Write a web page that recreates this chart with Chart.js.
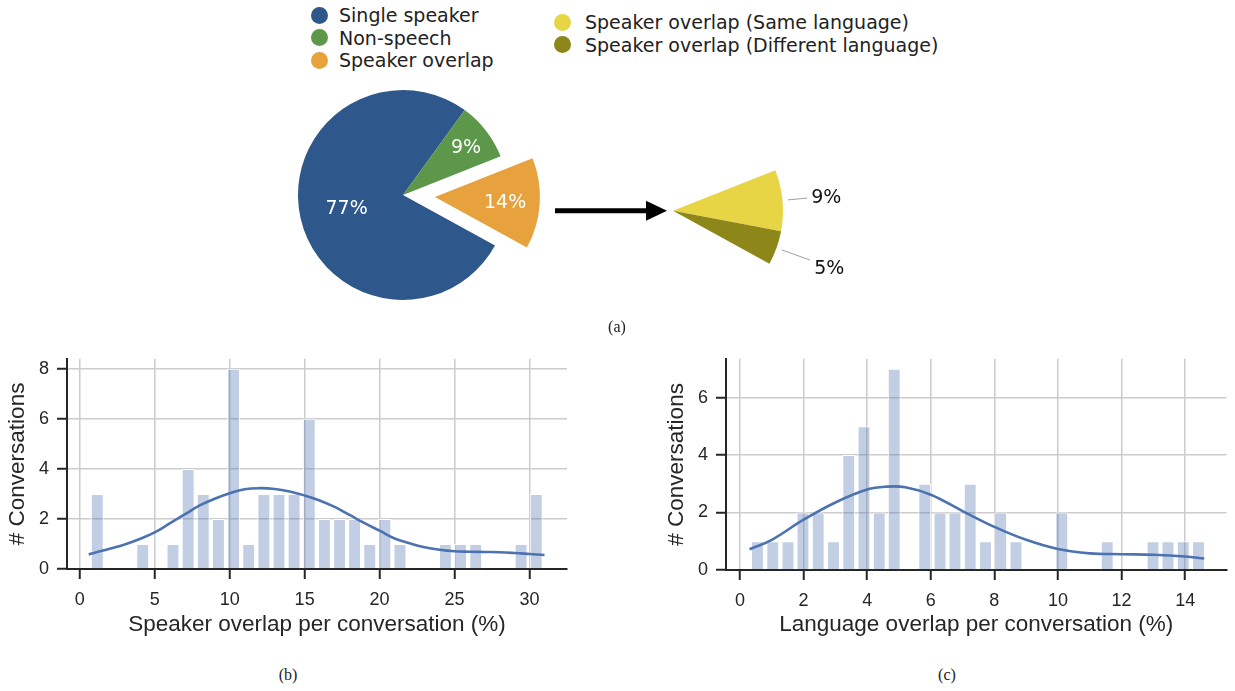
<!DOCTYPE html>
<html>
<head>
<meta charset="utf-8">
<script src="https://cdn.jsdelivr.net/npm/chart.js@4.4.1/dist/chart.umd.min.js"></script>
<style>
  body { margin: 0; background: #fff; }
  #page { position: relative; width: 1235px; height: 691px; overflow: hidden; }
  canvas { position: absolute; }
  .legend { position: absolute; font-family: "DejaVu Sans"; font-size: 19px; color: #222; line-height: 22.5px; }
  .legend div { position: relative; white-space: nowrap; }
  .legend .dot { position: absolute; left: 0; top: 2.5px; width: 17px; height: 17px; border-radius: 50%; }
  .caption { position: absolute; font-family: "Liberation Serif"; font-size: 16px; color: #222; transform: translate(-50%, -50%); }
</style>
</head>
<body>
<div id="page">
  <div class="legend" id="legendMain" style="left:311px; top:4px;"></div>
  <div class="legend" id="legendSub" style="left:554px; top:11px;"></div>
  <canvas id="pieMain" width="300" height="260" style="left:253px; top:65px;"></canvas>
  <canvas id="pieSub" width="366" height="200" style="left:545px; top:117px;"></canvas>
  <div class="caption" style="left:617px; top:327px;">(a)</div>
  <canvas id="histSpeaker" width="600" height="310" style="left:0px; top:340px;"></canvas>
  <canvas id="histLanguage" width="585" height="310" style="left:650px; top:340px;"></canvas>
  <div class="caption" style="left:288px; top:675px;">(b)</div>
  <div class="caption" style="left:947px; top:675px;">(c)</div>
</div>
<script>
// pie (a)
const pieLabels = ['Single speaker', 'Non-speech', 'Speaker overlap'];
const pieValues = [77, 9, 14];
const pieColors = ['#2e588b', '#5c974a', '#e7a13d'];
const subLabels = ['Speaker overlap (Same language)', 'Speaker overlap (Different language)'];
const subValues = [9, 5];
const subColors = ['#e7d546', '#8d871a'];

// histogram (b): speaker overlap per conversation
const spkBins = [1.17, 4.20, 6.22, 7.23, 8.24, 9.25, 10.26, 11.27, 12.28, 13.29, 14.30, 15.31,
                 16.32, 17.33, 18.33, 19.34, 20.35, 21.36, 24.39, 25.40, 26.41, 29.44, 30.45];
const spkCounts = [3, 1, 1, 4, 3, 2, 8, 1, 3, 3, 3, 6, 2, 2, 2, 1, 2, 1, 1, 1, 1, 1, 3];
const spkKdeX = [0.6, 1, 2, 3, 4, 5, 6, 7, 8, 9, 10, 11, 12, 13, 14, 15, 16, 17, 18, 19, 20,
                 21, 22, 23, 24, 25, 26, 27, 28, 29, 30, 31];
const spkKdeY = [0.58, 0.65, 0.81, 0.98, 1.2, 1.46, 1.82, 2.18, 2.54, 2.81, 3.03, 3.19, 3.23, 3.2,
                 3.1, 2.94, 2.74, 2.48, 2.16, 1.83, 1.53, 1.22, 1.03, 0.87, 0.77, 0.71, 0.69, 0.68,
                 0.67, 0.64, 0.6, 0.56];
const spkTicksX = [0, 5, 10, 15, 20, 25, 30];
const spkTicksY = [0, 2, 4, 6, 8];

// histogram (c): language overlap per conversation
const lngBins = [0.55, 1.03, 1.51, 1.98, 2.46, 2.94, 3.42, 3.90, 4.38, 4.85, 5.81, 6.29, 6.76,
                 7.24, 7.72, 8.20, 8.68, 10.12, 11.55, 12.99, 13.46, 13.94, 14.42];
const lngCounts = [1, 1, 1, 2, 2, 1, 4, 5, 2, 7, 3, 2, 2, 3, 1, 2, 1, 2, 1, 1, 1, 1, 1];
const lngKdeX = [0.3, 1, 2, 3, 4, 4.6, 5.2, 6, 7, 8, 9, 10, 11, 12, 13, 14, 14.6];
const lngKdeY = [0.72, 1.05, 1.75, 2.35, 2.8, 2.9, 2.88, 2.62, 2.05, 1.5, 1.05, 0.73, 0.58, 0.55,
                 0.53, 0.47, 0.4];
const lngTicksX = [0, 2, 4, 6, 8, 10, 12, 14];
const lngTicksY = [0, 2, 4, 6];

const textColor = '#262626';

function buildLegend(id, labels, colors, indent) {
  const el = document.getElementById(id);
  labels.forEach((t, i) => {
    const row = document.createElement('div');
    row.style.paddingLeft = indent + 'px';
    const dot = document.createElement('span');
    dot.className = 'dot';
    dot.style.background = colors[i];
    row.appendChild(dot);
    row.appendChild(document.createTextNode(t));
    el.appendChild(row);
  });
}
buildLegend('legendMain', pieLabels, pieColors, 28);
buildLegend('legendSub', subLabels, subColors, 31);

// pulls a slice out along its bisector, like matplotlib's explode
const explodePlugin = {
  id: 'explode',
  afterUpdate(chart, args, opts) {
    const arcs = chart.getDatasetMeta(0).data;
    (opts.distances || []).forEach((d, i) => {
      if (!d || !arcs[i]) return;
      const a = (arcs[i].startAngle + arcs[i].endAngle) / 2;
      arcs[i].x += Math.cos(a) * d;
      arcs[i].y += Math.sin(a) * d;
    });
  }
};

const pctPlugin = {
  id: 'pct',
  afterDatasetsDraw(chart, args, opts) {
    const ctx = chart.ctx;
    const values = chart.data.datasets[0].data;
    ctx.save();
    ctx.font = '19px "DejaVu Sans"';
    ctx.textAlign = 'center';
    ctx.textBaseline = 'alphabetic';
    chart.getDatasetMeta(0).data.forEach((arc, i) => {
      const a = (arc.startAngle + arc.endAngle) / 2;
      const r = arc.outerRadius * opts.distance[i];
      const x = arc.x + Math.cos(a) * r;
      const y = arc.y + Math.sin(a) * r;
      const txt = values[i] + '%';
      if (opts.leader) {
        const w = ctx.measureText(txt).width;
        const t0 = arc.outerRadius * 1.05;
        const t1 = (x - w / 2 - 4 - arc.x) / Math.cos(a);
        ctx.strokeStyle = '#a0a0a0';
        ctx.lineWidth = 1;
        ctx.beginPath();
        ctx.moveTo(arc.x + Math.cos(a) * t0, arc.y + Math.sin(a) * t0);
        ctx.lineTo(arc.x + Math.cos(a) * t1, arc.y + Math.sin(a) * t1);
        ctx.stroke();
      }
      ctx.fillStyle = opts.color;
      ctx.fillText(txt, x, y + 19 * 0.36);
    });
    ctx.restore();
  }
};

const arrowPlugin = {
  id: 'arrow',
  afterDatasetsDraw(chart) {
    const arc = chart.getDatasetMeta(0).data[0];
    const ctx = chart.ctx;
    const tipX = arc.x - 6, y = arc.y;
    ctx.save();
    ctx.fillStyle = '#000';
    ctx.fillRect(tipX - 112, y - 2.5, 92, 5);
    ctx.beginPath();
    ctx.moveTo(tipX, y);
    ctx.lineTo(tipX - 21, y - 10);
    ctx.lineTo(tipX - 21, y + 10);
    ctx.closePath();
    ctx.fill();
    ctx.restore();
  }
};

const pieTotal = pieValues.reduce((s, v) => s + v, 0);
const subShare = subValues.reduce((s, v) => s + v, 0) / pieTotal;
const mainRotation = 118.8;

new Chart(document.getElementById('pieMain'), {
  type: 'pie',
  data: { labels: pieLabels, datasets: [{ data: pieValues, backgroundColor: pieColors, borderWidth: 0 }] },
  options: {
    responsive: false, animation: false, events: [],
    radius: 105,
    rotation: mainRotation,
    plugins: {
      legend: { display: false }, tooltip: { enabled: false },
      explode: { distances: [0, 0, 32] },
      pct: { distance: [0.55, 0.76, 0.67], color: '#fff', leader: false }
    }
  },
  plugins: [explodePlugin, pctPlugin]
});

new Chart(document.getElementById('pieSub'), {
  type: 'pie',
  data: { labels: subLabels, datasets: [{ data: subValues, backgroundColor: subColors, borderWidth: 0 }] },
  options: {
    responsive: false, animation: false, events: [],
    radius: 110,
    rotation: mainRotation + 360 * (1 - subShare),
    circumference: 360 * subShare,
    plugins: {
      legend: { display: false }, tooltip: { enabled: false },
      pct: { distance: [1.4, 1.51], color: '#111', leader: true }
    }
  },
  plugins: [pctPlugin, arrowPlugin]
});

function histogram(canvasId, o) {
  const tickFont = { family: 'Liberation Sans', size: 18 };
  const titleFont = { family: 'Liberation Sans', size: 22.5 };
  const gridStyle = { color: '#cccccc', lineWidth: 1.5, tickColor: textColor, tickWidth: 2, tickLength: 10 };
  return new Chart(document.getElementById(canvasId), {
    type: 'bar',
    data: {
      datasets: [
        {
          type: 'line',
          data: o.kdeX.map((x, i) => ({ x: x, y: o.kdeY[i] })),
          borderColor: '#4c72b0', borderWidth: 2.6, pointRadius: 0,
          tension: 0.4, fill: false
        },
        {
          type: 'bar',
          data: o.bins.map((x, i) => ({ x: x, y: o.counts[i] })),
          backgroundColor: 'rgba(76,114,176,0.35)',
          borderColor: '#ffffff', borderWidth: 1,
          barPercentage: 0.86, categoryPercentage: 1
        }
      ]
    },
    options: {
      responsive: false, animation: false, events: [],
      layout: { padding: { top: o.padTop, right: o.padRight, left: 0, bottom: 0 } },
      plugins: { legend: { display: false }, tooltip: { enabled: false } },
      scales: {
        x: {
          type: 'linear', min: o.xMin, max: o.xMax, offset: false,
          afterBuildTicks: s => { s.ticks = o.ticksX.map(v => ({ value: v })); },
          afterFit: s => { s.height = o.xHeight; },
          grid: Object.assign({ offset: false }, gridStyle),
          border: { color: textColor, width: 2 },
          ticks: { color: textColor, font: tickFont, padding: 10, maxRotation: 0 },
          title: { display: true, text: o.xTitle, color: textColor, font: titleFont, padding: { top: 0, bottom: o.xTitlePad } }
        },
        y: {
          min: 0, max: o.yMax,
          afterBuildTicks: s => { s.ticks = o.ticksY.map(v => ({ value: v })); },
          afterFit: s => { s.width = o.yWidth; },
          grid: gridStyle,
          border: { color: textColor, width: 2 },
          ticks: { color: textColor, font: tickFont, padding: 8 },
          title: { display: true, text: '# Conversations', color: textColor, font: titleFont, padding: { top: o.yTitlePad, bottom: 0 } }
        }
      }
    }
  });
}

histogram('histSpeaker', {
  bins: spkBins, counts: spkCounts, kdeX: spkKdeX, kdeY: spkKdeY,
  ticksX: spkTicksX, ticksY: spkTicksY,
  xMin: -0.85, xMax: 32.5, yMax: 8.4,
  xTitle: 'Speaker overlap per conversation (%)',
  padTop: 15, padRight: 33, yWidth: 67, xHeight: 81, yTitlePad: 4, xTitlePad: 11.5
});

histogram('histLanguage', {
  bins: lngBins, counts: lngCounts, kdeX: lngKdeX, kdeY: lngKdeY,
  ticksX: lngTicksX, ticksY: lngTicksY,
  xMin: -0.44, xMax: 15.3, yMax: 7.35,
  xTitle: 'Language overlap per conversation (%)',
  padTop: 16, padRight: 8.5, yWidth: 76, xHeight: 80, yTitlePad: 13.5, xTitlePad: 11.5
});
</script>
</body>
</html>
